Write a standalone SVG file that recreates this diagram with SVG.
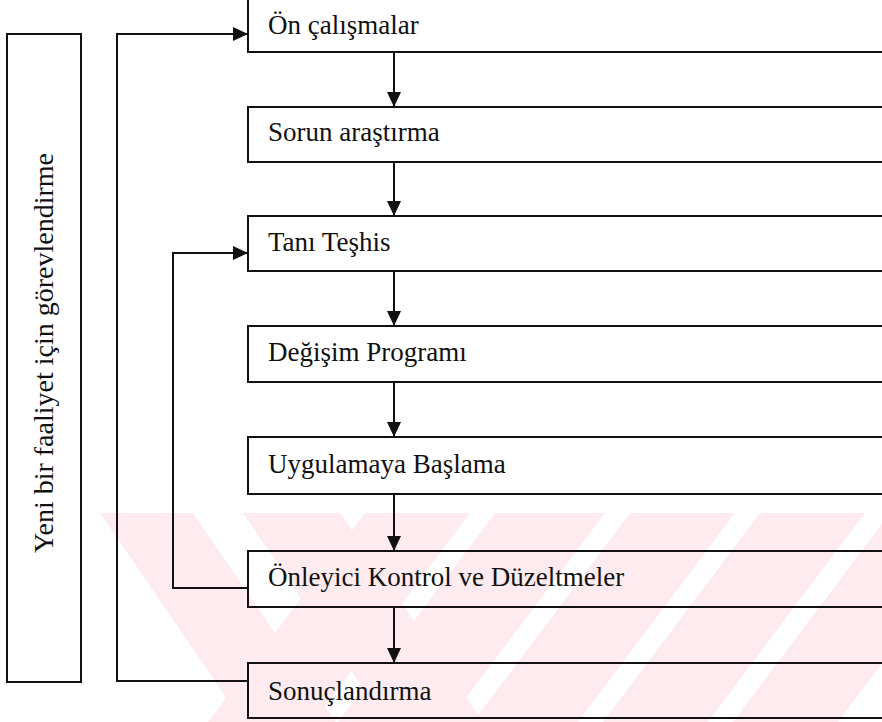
<svg xmlns="http://www.w3.org/2000/svg" width="882" height="722" viewBox="0 0 882 722">
  <style>
    .box { fill: none; stroke: #111; stroke-width: 2; }
    .lbl { font-family: "Liberation Serif", "Times New Roman", serif; font-size: 27px; fill: #111; }
    .vlbl { font-family: "Liberation Serif", "Times New Roman", serif; font-size: 28px; fill: #111; }
    .con { fill: none; stroke: #111; stroke-width: 2; }
    .wm { fill: #fdebef; }
  </style>
  <defs>
    <marker id="ah" markerUnits="userSpaceOnUse" markerWidth="16" markerHeight="14" refX="15" refY="7" orient="auto">
      <path d="M0,0 L15,7 L0,14 z" fill="#111"/>
    </marker>
    <clipPath id="wmclip">
      <rect x="0" y="513" width="882" height="209"/>
    </clipPath>
  </defs>
  <rect width="882" height="722" fill="#fff"/>
  <g id="watermark" clip-path="url(#wmclip)">
    <polygon class="wm" points="100,513 193,513 336,722 243,722"/>
    <polygon class="wm" points="243,513 340,513 483,722 386,722"/>
    <polygon class="wm" points="365,513 470,513 313,722 208,722"/>
    <polygon class="wm" points="495,513 605,513 448,722 338,722"/>
    <polygon class="wm" points="630,513 735,513 578,722 473,722"/>
    <polygon class="wm" points="760,513 865,513 708,722 603,722"/>
    <polygon class="wm" points="890,513 995,513 838,722 733,722"/>
  </g>
  <g id="side">
    <rect class="box" x="7" y="34" width="74" height="648"/>
    <text class="vlbl" transform="translate(53,353) rotate(-90)" text-anchor="middle">Yeni bir faaliyet için görevlendirme</text>
  </g>
  <g id="n1"><rect class="box" x="248" y="-3" width="700" height="55"/><text class="lbl" x="268" y="34">Ön çalışmalar</text></g>
  <g id="n2"><rect class="box" x="248" y="107" width="700" height="55"/><text class="lbl" x="268" y="141">Sorun araştırma</text></g>
  <g id="n3"><rect class="box" x="248" y="216" width="700" height="55"/><text class="lbl" x="268" y="251">Tanı Teşhis</text></g>
  <g id="n4"><rect class="box" x="248" y="326" width="700" height="56"/><text class="lbl" x="268" y="361">Değişim Programı</text></g>
  <g id="n5"><rect class="box" x="248" y="437" width="700" height="57"/><text class="lbl" x="268" y="473">Uygulamaya Başlama</text></g>
  <g id="n6"><rect class="box" x="248" y="551" width="700" height="56"/><text class="lbl" x="268" y="586">Önleyici Kontrol ve Düzeltmeler</text></g>
  <g id="n7"><rect class="box" x="248" y="663" width="700" height="55"/><text class="lbl" x="268" y="700">Sonuçlandırma</text></g>
  <g id="connectors">
    <line class="con" x1="394" y1="52" x2="394" y2="107" marker-end="url(#ah)"/>
    <line class="con" x1="394" y1="162" x2="394" y2="216" marker-end="url(#ah)"/>
    <line class="con" x1="394" y1="271" x2="394" y2="326" marker-end="url(#ah)"/>
    <line class="con" x1="394" y1="382" x2="394" y2="437" marker-end="url(#ah)"/>
    <line class="con" x1="394" y1="494" x2="394" y2="551" marker-end="url(#ah)"/>
    <line class="con" x1="394" y1="607" x2="394" y2="663" marker-end="url(#ah)"/>
    <polyline class="con" points="248,588 173,588 173,253 248,253" marker-end="url(#ah)"/>
    <polyline class="con" points="248,681 117,681 117,34 248,34" marker-end="url(#ah)"/>
  </g>
</svg>
